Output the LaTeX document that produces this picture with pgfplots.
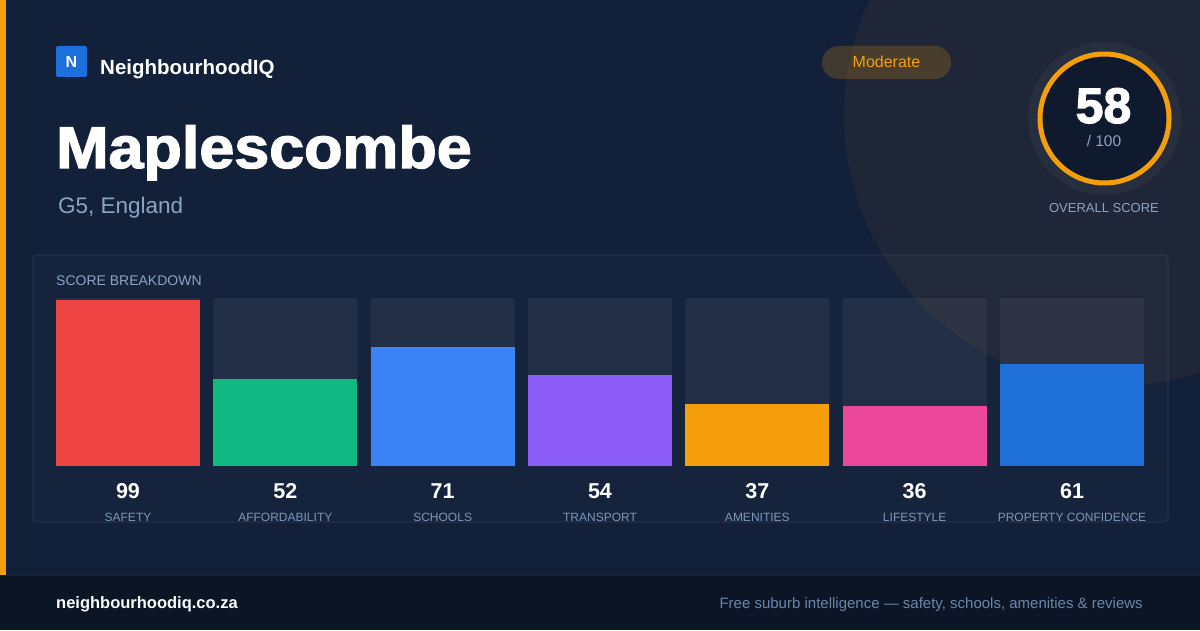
\documentclass[border=0pt]{standalone}
\usepackage{pgfplots}
\pgfplotsset{compat=1.18}
\usepackage{pgfplotstable}
\usepackage{fontspec}
\setmainfont{Liberation Sans}
\newfontfamily\heavyfont[FakeBold=2.2]{Liberation Sans Bold}
\definecolor{bg}{HTML}{13203A}
\definecolor{footbg}{HTML}{0B1526}
\definecolor{accent}{HTML}{F59E0B}
\definecolor{logoblue}{HTML}{1D6FDC}
\definecolor{subtxt}{HTML}{8BA3C2}
\definecolor{labtxt}{HTML}{7E97B8}
\definecolor{foottxt}{HTML}{6A86AB}
\definecolor{ringin}{HTML}{0F1A2E}
\definecolor{cSafety}{HTML}{EF4444}
\definecolor{cAfford}{HTML}{10B981}
\definecolor{cSchools}{HTML}{3B82F6}
\definecolor{cTransport}{HTML}{8B5CF6}
\definecolor{cAmen}{HTML}{F59E0B}
\definecolor{cLife}{HTML}{EC4899}
\definecolor{cProp}{HTML}{1E6FD8}

\pgfplotstableread{
x full v
0 100 99
1 100 52
2 100 71
3 100 54
4 100 37
5 100 36
6 100 61
}\scores

\begin{document}
\begin{tikzpicture}
\useasboundingbox (0pt,0pt) rectangle (1200pt,630pt);
\begin{scope}
\clip (0pt,0pt) rectangle (1200pt,630pt);
% background
\fill[bg] (0pt,0pt) rectangle (1200pt,630pt);
\fill[accent, fill opacity=0.055] (1115pt,515pt) circle (271pt);
% footer
\fill[footbg] (0pt,0pt) rectangle (1200pt,55pt);
\draw[white, opacity=0.06, line width=1pt] (0pt,55pt) -- (1200pt,55pt);
% accent bar
\fill[accent] (0pt,55pt) rectangle (6pt,630pt);
% panel
\draw[rounded corners=4pt, fill=white, fill opacity=0.015, draw opacity=0.08, draw=white, line width=1pt] (33pt,108pt) rectangle (1168pt,375pt);
\end{scope}

% logo
\fill[logoblue, rounded corners=2pt] (56pt,553pt) rectangle (87pt,584pt);
\node[text=white, font=\fontsize{16}{18}\selectfont\bfseries, inner sep=0pt] at (71.5pt,568.5pt) {N};
\node[anchor=base west, inner sep=0pt, text=white, font=\fontsize{20.5}{23}\selectfont\bfseries] at (100pt,555pt) {NeighbourhoodIQ};

% title
\node[anchor=base west, inner sep=0pt, text=white, font=\fontsize{59}{66}\selectfont\heavyfont] at (56pt,462pt) {\scalebox{1.065}[1]{Maplescombe}};
\node[anchor=base west, inner sep=0pt, text=subtxt, font=\fontsize{22.5}{26}\selectfont] at (58pt,416pt) {G5, England};

% badge
\fill[accent, fill opacity=0.2, rounded corners=16.5pt] (822pt,551pt) rectangle (951pt,584pt);
\node[anchor=base, inner sep=0pt, text=accent, font=\fontsize{16}{18}\selectfont] at (886.5pt,562pt) {Moderate};

% overall score ring
\fill[white, fill opacity=0.04] (1104.5pt,511.5pt) circle (76.5pt);
\fill[ringin] (1104.5pt,511.5pt) circle (62pt);
\draw[accent, line width=5pt] (1104.5pt,511.5pt) circle (64.5pt);
\node[anchor=base, inner sep=0pt, text=white, font=\fontsize{50}{54}\selectfont\heavyfont] at (1103.5pt,507pt) {58};
\node[anchor=base, inner sep=0pt, text=subtxt, font=\fontsize{15.5}{18}\selectfont] at (1104pt,483pt) {/ 100};
\node[anchor=base, inner sep=0pt, text=subtxt, font=\fontsize{13}{15}\selectfont] at (1104pt,417pt) {OVERALL SCORE};

% panel title
\node[anchor=base west, inner sep=0pt, text=subtxt, font=\fontsize{14}{16}\selectfont] at (56pt,344pt) {SCORE BREAKDOWN};

% footer text
\node[anchor=base west, inner sep=0pt, text=white, font=\fontsize{16.5}{19}\selectfont\bfseries] at (56pt,22pt) {neighbourhoodiq.co.za};
\node[anchor=base east, inner sep=0pt, text=foottxt, font=\fontsize{15}{17}\selectfont] at (1143pt,22pt) {Free suburb intelligence — safety, schools, amenities \& reviews};

\begin{axis}[
  at={(56pt,164pt)}, anchor=south west,
  scale only axis, width=1088pt, height=168pt,
  xmin=-0.4576, xmax=6.4576, ymin=0, ymax=100,
  axis line style={draw=none}, tick style={draw=none},
  ytick=\empty,
  xtick={0,1,2,3,4,5,6},
  xticklabels={SAFETY,AFFORDABILITY,SCHOOLS,TRANSPORT,AMENITIES,LIFESTYLE,PROPERTY CONFIDENCE},
  xticklabel style={anchor=base, inner sep=0pt, yshift=-55pt, text=labtxt, font=\fontsize{12}{14}\selectfont},
  /pgf/number format/assume math mode=true,
  clip=false,
  bar width=144pt,
]
\addplot[ybar, bar shift=0pt, draw=none, fill=white, fill opacity=0.055] table[x=x, y=full] {\scores};
\addplot[ybar, bar shift=0pt, draw=none, fill=cSafety] coordinates {(0,99)};
\addplot[ybar, bar shift=0pt, draw=none, fill=cAfford] coordinates {(1,52)};
\addplot[ybar, bar shift=0pt, draw=none, fill=cSchools] coordinates {(2,71)};
\addplot[ybar, bar shift=0pt, draw=none, fill=cTransport] coordinates {(3,54)};
\addplot[ybar, bar shift=0pt, draw=none, fill=cAmen] coordinates {(4,37)};
\addplot[ybar, bar shift=0pt, draw=none, fill=cLife] coordinates {(5,36)};
\addplot[ybar, bar shift=0pt, draw=none, fill=cProp] coordinates {(6,61)};
\addplot[draw=none, mark=none, nodes near coords, point meta=explicit,
  every node near coord/.style={anchor=base, inner sep=0pt, yshift=-200pt, text=white, text opacity=1, font=\fontsize{21.5}{24}\selectfont\bfseries}]
  table[x=x, y=full, meta=v] {\scores};
\end{axis}
\end{tikzpicture}
\end{document}
